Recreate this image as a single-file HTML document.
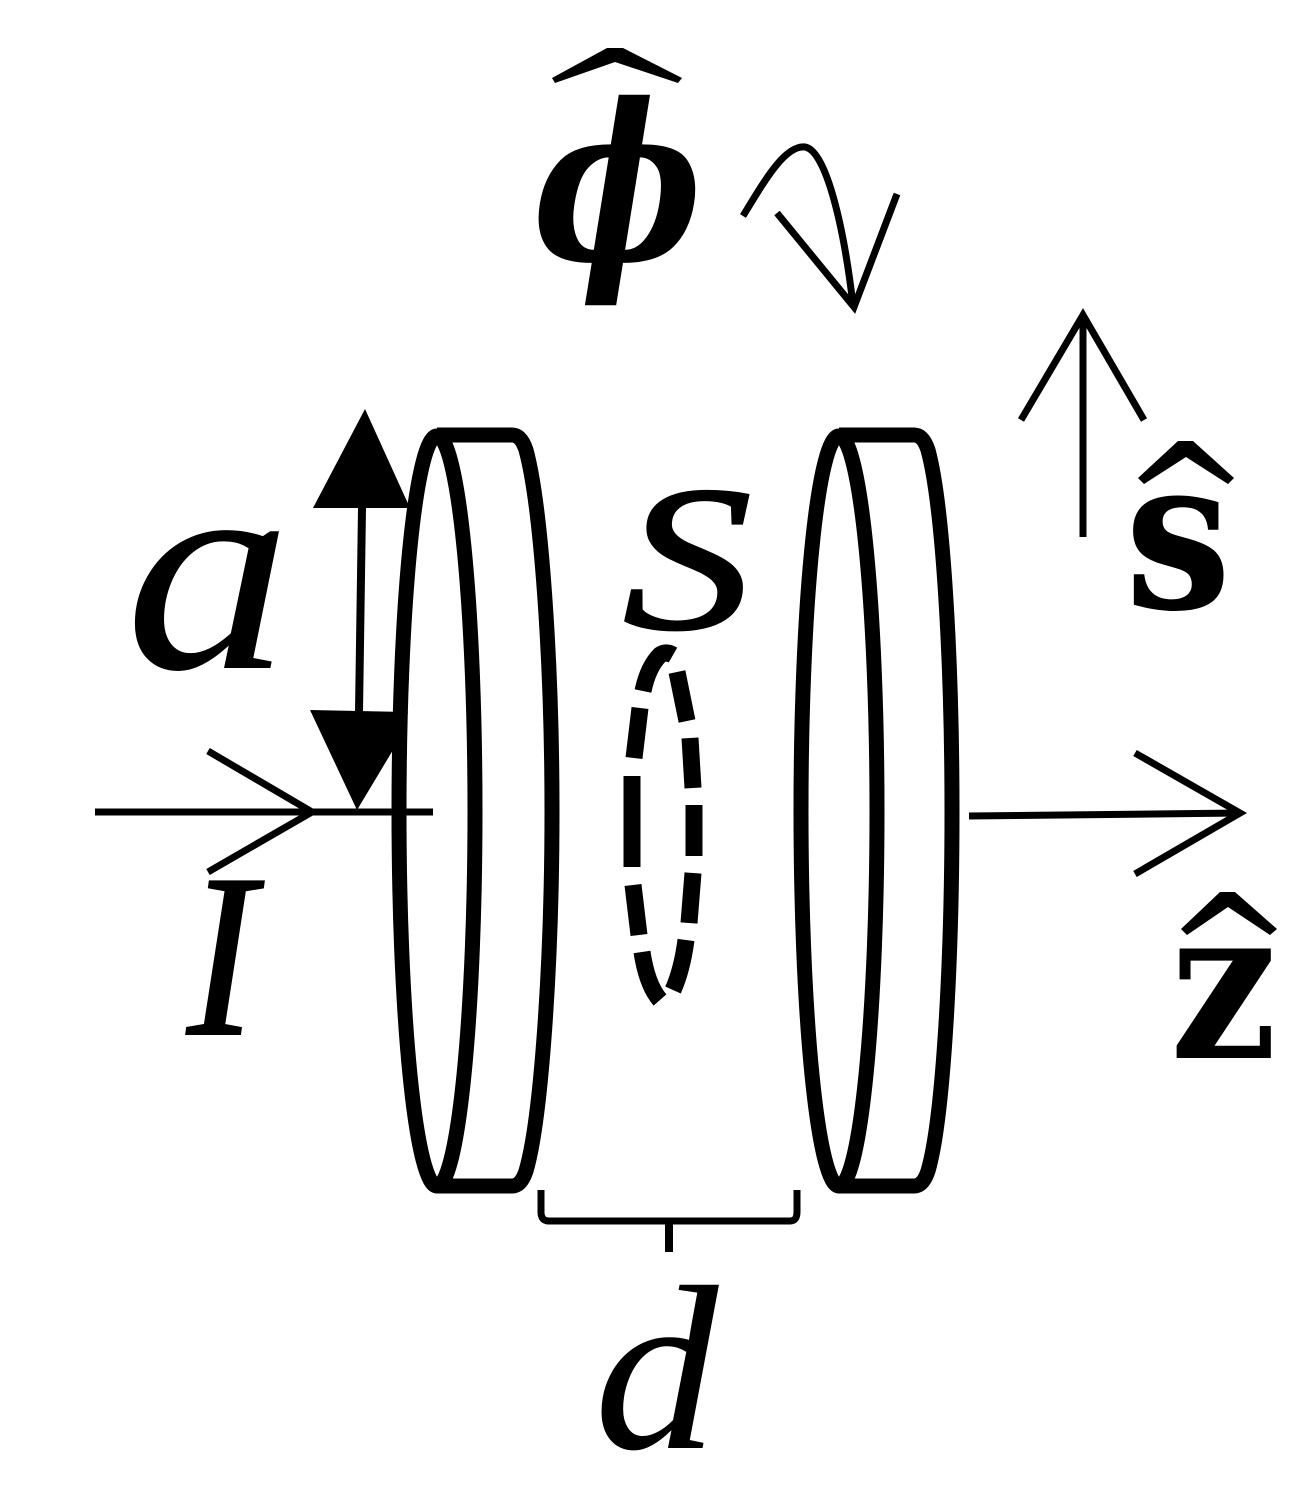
<!DOCTYPE html>
<html>
<head>
<meta charset="utf-8">
<style>
html,body{margin:0;padding:0;background:#fff;width:1300px;height:1499px;overflow:hidden}
svg{display:block}
text{font-family:"Liberation Serif","DejaVu Serif",serif;fill:#000;font-size:222px}
.dv{font-family:"DejaVu Serif","Liberation Serif",serif}
</style>
</head>
<body>
<svg width="1300" height="1499" viewBox="0 0 1300 1499" xmlns="http://www.w3.org/2000/svg">
<g fill="none" stroke="#000" stroke-linejoin="round">
<!-- left disc -->
<ellipse cx="437" cy="811" rx="38" ry="375" stroke-width="15"/>
<path d="M437 435H512Q521 435 526 450C541 505 552 660 552 811C552 965 541 1120 526 1171Q521 1186 512 1186H437" stroke-width="15"/>
<!-- right disc -->
<ellipse cx="839" cy="811" rx="38" ry="375" stroke-width="15"/>
<path d="M839 435H914Q923 435 928 450C943 505 952 660 952 811C952 965 943 1120 928 1171Q923 1186 914 1186H839" stroke-width="15"/>
<!-- dashed loop -->
<g stroke-width="17">
<path d="M673 655Q666 651 660 655Q648 667 643 691"/>
<path d="M640 708L634 758"/>
<path d="M632 776V867"/>
<path d="M633 885L639 935"/>
<path d="M642 952Q647 985 660 1000"/>
<path d="M677 672L687 721"/>
<path d="M690 738L693 788"/>
<path d="M694 805V856"/>
<path d="M693 873L689 923"/>
<path d="M686 940Q682 970 673 990"/>
</g>
<!-- brace -->
<path d="M541 1190V1212Q541 1221 549 1221H790Q797 1221 797 1212V1190" stroke-width="7"/>
<path d="M669 1218V1252" stroke-width="8"/>
</g>
<g fill="none" stroke="#000" stroke-width="7">
<!-- I arrow -->
<path d="M95 812H433"/>
<path d="M208 751L312 812L208 872"/>
<!-- z arrow -->
<path d="M969 816L1240 813"/>
<path d="M1135 753L1240 813L1135 874"/>
<!-- s arrow -->
<path d="M1083 537V315"/>
<path d="M1021 420L1083 315L1144 420"/>
<!-- phi arrow -->
<path d="M743 216C765 180 785 145 805 147C825 150 843 220 853 305"/>
<path d="M777 213L854 307L897 194"/>
<!-- a dimension -->
<path d="M362 508L359 712" stroke-width="8"/>
</g>
<path d="M365 409L410 508H313Z" fill="#000"/>
<path d="M310 710L408 712L396 745L357 810Z" fill="#000"/>
<text transform="translate(125 668) scale(1.5 1.32)" font-style="italic">a</text>
<text transform="translate(623 628) scale(1.16 .93)" font-style="italic" stroke="#000" stroke-width="3">S</text>
<text transform="translate(187 1034) scale(.93 1.05)" font-style="italic" stroke="#000" stroke-width="2">I</text>
<text transform="translate(594 1448) scale(1.12 1.06)" font-style="italic">d</text>
<text class="dv" transform="translate(533 260) scale(.81 .98)" font-style="italic" font-weight="bold">ϕ</text>
<text class="dv" transform="translate(1125 608) scale(.85 .95)" font-weight="bold">s</text>
<text class="dv" transform="translate(1170 1058) scale(.85 .95)" font-weight="bold">z</text>
<g fill="#000">
<polygon points="552,78 607,48 623,48 682,78 678,83 615,62 555,83"/>
<polygon points="1138,478 1178,441 1193,441 1234,478 1228,484 1186,457 1144,484"/>
<polygon points="1181,929 1220,892 1235,892 1277,929 1270,935 1228,907 1187,935"/>
</g>
</svg>
</body>
</html>
